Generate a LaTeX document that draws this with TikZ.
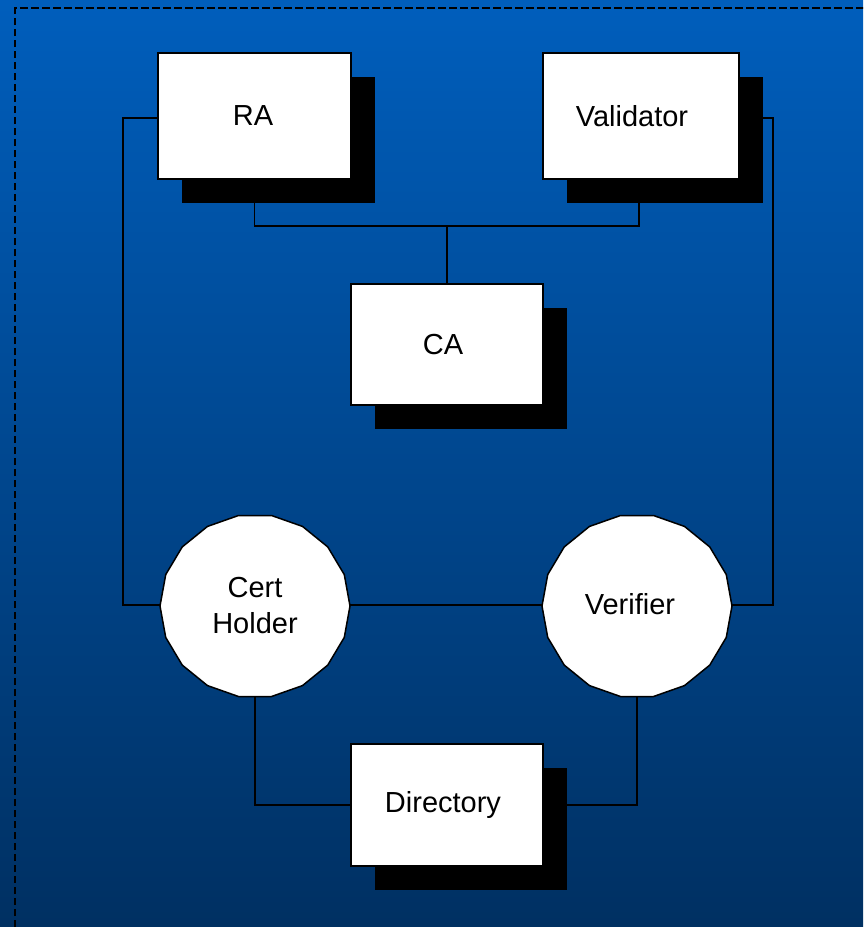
\documentclass[tikz,border=0pt]{standalone}
\usepackage{fontspec}
\setmainfont{Liberation Sans}
\definecolor{skytop}{RGB}{0,94,188}
\definecolor{skybot}{RGB}{0,48,98}
\begin{document}
\begin{tikzpicture}[x=1pt,y=-1pt,
  wire/.style={draw=black, line width=1.2pt},
  card/.style={draw=black, fill=white, line width=1.5pt, inner sep=0pt},
  caption/.style={font=\fontsize{29}{36}\selectfont, text=black, align=center, inner sep=0pt},
  disc/.style={draw=black, fill=white, line width=1.5pt},
]
% page and backdrop
\clip (0,0) rectangle (863,927);
\fill[top color=skytop, bottom color=skybot] (0,0) rectangle (863,927);
\draw[black, line width=2.4pt, dash pattern=on 7.5pt off 3.5pt] (15,960) -- (15,8) -- (900,8);

% anchor points for the boxes and discs
\coordinate (raC)  at (254.5,116);
\coordinate (valC) at (641,116);
\coordinate (caC)  at (447,344.5);
\coordinate (dirC) at (447,805);
\coordinate (chC)  at (255,606);
\coordinate (vfC)  at (637,606);

% box outlines (named, used as connector ends)
\path (raC)  node[minimum width=193pt, minimum height=126pt] (ra)  {};
\path (valC) node[minimum width=196pt, minimum height=126pt] (val) {};
\path (caC)  node[minimum width=192pt, minimum height=121pt] (ca)  {};
\path (dirC) node[minimum width=192pt, minimum height=122pt] (dir) {};
\path (chC)  node[minimum width=190pt, minimum height=182pt, inner sep=0pt] (ch) {};
\path (vfC)  node[minimum width=190pt, minimum height=182pt, inner sep=0pt] (vf) {};

% junctions of the wiring
\coordinate (bus)   at (447,226);
\coordinate (lrail) at (123,605);
\coordinate (rrail) at (773,605);

% connectors
\draw[wire] (ra.south) |- (bus) -| ([xshift=-2pt]val.south);
\draw[wire] (bus) -- (ca.north);
\draw[wire] ([yshift=-2pt]ra.west) -| (lrail) -- ([yshift=1pt]ch.west);
\draw[wire] ([yshift=-2pt]val.east) -| (rrail) -- ([yshift=1pt]vf.east);
\draw[wire] ([yshift=1pt]ch.east) -- ([yshift=1pt]vf.west);
\draw[wire] (ch.south) |- (dir.west);
\draw[wire] (vf.south) |- (dir.east);

% drop shadows
\foreach \b in {ra,val,ca,dir}{
  \fill[black] ([shift={(24pt,-24pt)}]\b.south west) rectangle ([shift={(24pt,-24pt)}]\b.north east);
}
% white boxes
\foreach \b in {ra,val,ca,dir}{
  \draw[card] (\b.south west) rectangle (\b.north east);
}
% eighteen-sided discs
\foreach \d in {ch,vf}{
  \draw[disc, shift={(\d.center)}]
    plot[variable=\t, domain=0:340, samples=18] ({95*cos(\t)},{91.9*sin(\t)}) -- cycle;
}

% captions
\node[caption] (raT)  at ([xshift=-1.5pt]ra.center)  {RA};
\node[caption] (valT) at ([xshift=-9pt]val.center)   {Validator};
\node[caption] (caT)  at ([xshift=-4pt]ca.center)    {CA};
\node[caption] (dirT) at ([xshift=-4pt]dir.center)   {Directory};
\node[caption] (chT)  at (ch.center)                 {Cert\\Holder};
\node[caption] (vfT)  at ([xshift=-7pt,yshift=2pt]vf.center) {Verifier};
\end{tikzpicture}
\end{document}
